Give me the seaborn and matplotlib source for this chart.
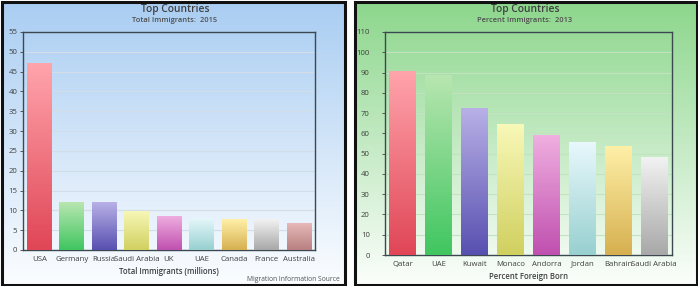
import numpy as np
import pandas as pd
import matplotlib
matplotlib.use("Agg")
import matplotlib.pyplot as plt
import matplotlib.colors as mcolors
from matplotlib.patches import Rectangle
import seaborn as sns

# ---- data ----
left_countries = ["USA", "Germany", "Russia", "Saudi Arabia", "UK", "UAE", "Canada", "France", "Australia"]
left_values = [47.1, 12.1, 12.1, 9.9, 8.6, 8.1, 7.7, 7.7, 6.8]
right_countries = ["Qatar", "UAE", "Kuwait", "Monaco", "Andorra", "Jordan", "Bahrain", "Saudi Arabia"]
right_values = [90.9, 88.6, 72.4, 64.6, 59.4, 55.7, 53.9, 48.2]
left_yticks = list(range(0, 56, 5))
right_yticks = list(range(0, 111, 10))

top_colors = ["#ffa4ac", "#b8e6b0", "#b8b0e6", "#f8f8b8", "#f0b0e0", "#e8f8fc", "#fff0a8", "#f2f2f2", "#e6b8b8"]
bottom_colors = ["#e04656", "#40c660", "#5850b0", "#d0d060", "#c050b0", "#98d0d0", "#d6b050", "#a8a8a8", "#b88080"]

sns.set_theme(style="white")
plt.rcParams['font.family'] = ['Open Sans', 'DejaVu Sans']

W, H = 698, 286
fig = plt.figure(figsize=(W / 100, H / 100), dpi=100)
fig.patch.set_facecolor("white")

TXT = "#404040"


def panel_bg(x0, x1, ctop, cbot):
    bax = fig.add_axes([x0 / W, 1.5 / H, (x1 - x0) / W, 283 / H], zorder=0)
    c1 = np.array(mcolors.to_rgb(ctop))
    c2 = np.array(mcolors.to_rgb(cbot))
    t = np.linspace(0, 1, 256)[:, None, None]
    grad = c1 * (1 - t) + c2 * t
    bax.imshow(grad, aspect="auto", extent=[0, 1, 0, 1], origin="upper")
    bax.set_axis_off()
    fig.patches.append(Rectangle((x0 / W, 1.5 / H), (x1 - x0) / W, 283 / H,
                                 transform=fig.transFigure, fill=False,
                                 edgecolor="#111111", linewidth=2.2, zorder=10))


def gradient_bars(ax, tops, bots):
    xl, yl = ax.get_xlim(), ax.get_ylim()
    t = np.linspace(0, 1, 128)[:, None, None]
    for i, p in enumerate(ax.patches):
        x, w, h = p.get_x(), p.get_width(), p.get_height()
        c1 = np.array(mcolors.to_rgb(tops[i]))
        c2 = np.array(mcolors.to_rgb(bots[i]))
        grad = c1 * (1 - t) + c2 * t
        im = ax.imshow(grad, extent=[x, x + w, 0, h], origin="upper", aspect="auto", zorder=3)
        im.set_clip_path(p)
    ax.set_xlim(xl)
    ax.set_ylim(yl)


def make_panel(rect, cats, vals, yticks, tops, bots, grid_color, title_x, subtitle, xlabel, ypad):
    ax = fig.add_axes(rect, zorder=2)
    ax.patch.set_alpha(0)
    df = pd.DataFrame({"country": cats, "value": vals})
    sns.barplot(data=df, x="country", y="value", hue="country", palette=bots[:len(cats)],
                legend=False, width=0.75, ax=ax, saturation=1, zorder=2, linewidth=0)
    ax.set_ylim(yticks[0], yticks[-1])
    gradient_bars(ax, tops, bots)
    ax.set_yticks(yticks)
    ax.yaxis.grid(True, color=grid_color, linewidth=0.8, zorder=0)
    ax.set_axisbelow(True)
    for s in ax.spines.values():
        s.set_color("#3c4850")
        s.set_linewidth(1.0)
    ax.tick_params(axis="both", labelsize=5.6, colors=TXT, length=2, width=0.6)
    ax.tick_params(axis="x", length=0, pad=4)
    ax.tick_params(axis="y", left=True, pad=ypad)
    ax.set_xlabel(xlabel, fontsize=5.6, color=TXT, fontweight=600, labelpad=3)
    ax.set_ylabel("")
    fig.text(title_x / W, 1 - 9.5 / H, "Top Countries", ha="center", va="center",
             fontsize=7.4, color=TXT, fontweight=600)
    fig.text(title_x / W, 1 - 20.5 / H, subtitle, ha="center", va="center",
             fontsize=5.4, color="#505050", fontweight=600)
    return ax


panel_bg(1.5, 344.5, "#a9cdf2", "#fbfdff")
panel_bg(354.5, 696.5, "#8cd68c", "#fbfefb")

make_panel([23 / W, 36 / H, 292 / W, 218 / H], left_countries, left_values, left_yticks,
           top_colors, bottom_colors, "#d2dde8", 175, "Total Immigrants:  2015",
           "Total Immigrants (millions)", 2)
make_panel([385 / W, 31 / H, 287 / W, 223 / H], right_countries, right_values, right_yticks,
           top_colors[:8], bottom_colors[:8], "#c2e2c2", 525, "Percent Immigrants:  2013",
           "Percent Foreign Born", 9)

fig.text(340 / W, 1 - 279.5 / H, "Migration Information Source", ha="right", va="center",
         fontsize=4.9, color="#505050")

fig.savefig("out.png", dpi=100)
